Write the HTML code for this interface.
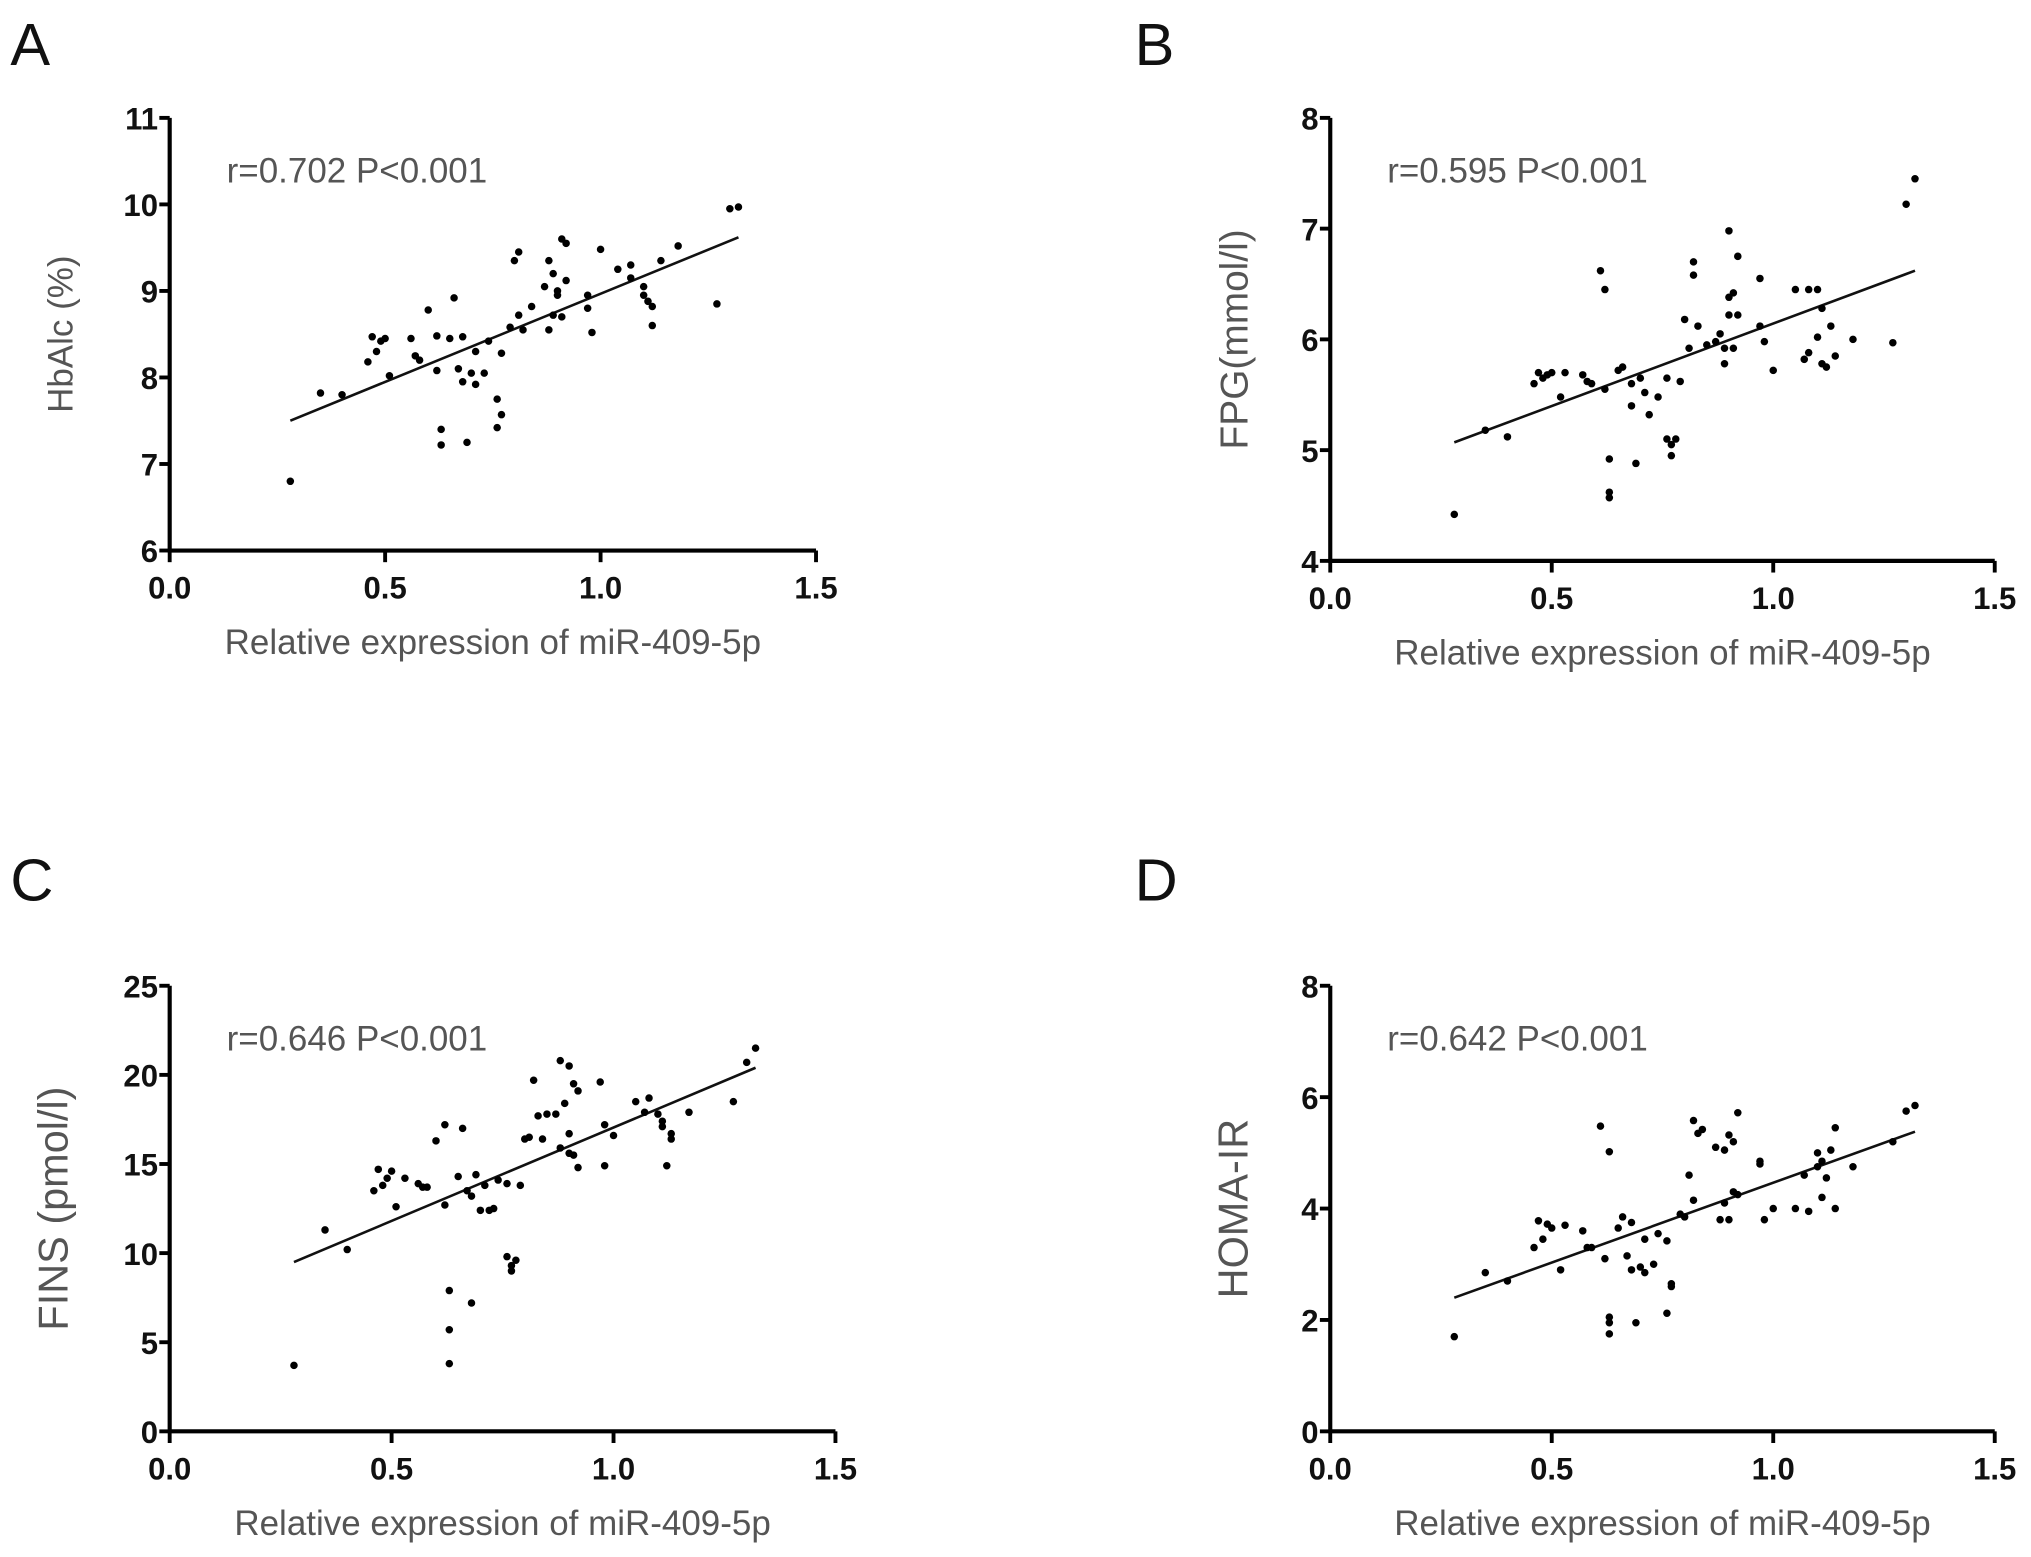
<!DOCTYPE html>
<html><head><meta charset="utf-8"><style>
html,body{margin:0;padding:0;background:#fff;}
svg{display:block;}
.tick{font-family:"Liberation Sans Narrow","Liberation Sans",sans-serif;font-size:24px;fill:#111;font-weight:bold;}
.ttl{font-family:"Liberation Sans Narrow","Liberation Sans",sans-serif;fill:#555;}
.lbl{font-family:"Liberation Sans",sans-serif;font-size:46px;fill:#111;}
</style></head><body>
<svg id="fig" width="2031" height="1557" viewBox="0 0 1568 1202" preserveAspectRatio="none" xmlns="http://www.w3.org/2000/svg"></svg>
<script>
const xTicks = [0.0, 0.5, 1.0, 1.5];
const xTickLabels = ["0.0", "0.5", "1.0", "1.5"];

const aX = [0.28,0.35,0.40,0.46,0.47,0.48,0.49,0.50,0.51,0.56,0.57,0.58,0.60,0.62,0.62,0.63,0.63,0.65,0.66,0.67,0.68,0.68,0.69,0.70,0.71,0.71,0.73,0.74,0.76,0.76,0.77,0.77,0.79,0.80,0.81,0.81,0.82,0.84,0.87,0.88,0.88,0.89,0.89,0.90,0.90,0.91,0.92,0.92,0.91,0.97,0.97,0.98,1.00,1.04,1.07,1.07,1.10,1.10,1.11,1.12,1.12,1.14,1.18,1.27,1.30,1.32];
const aY = [6.8,7.82,7.8,8.18,8.47,8.3,8.42,8.45,8.02,8.45,8.25,8.2,8.78,8.48,8.08,7.4,7.22,8.45,8.92,8.1,8.47,7.95,7.25,8.05,8.3,7.92,8.05,8.42,7.75,7.42,7.57,8.28,8.58,9.35,9.45,8.72,8.55,8.82,9.05,9.35,8.55,8.72,9.2,9.0,8.95,9.6,9.55,9.12,8.7,8.8,8.95,8.52,9.48,9.25,9.15,9.3,9.05,8.95,8.88,8.82,8.6,9.35,9.52,8.85,9.95,9.97];
const aFit = [[0.28,7.5],[1.32,9.62]];
const aYTicks = [6,7,8,9,10,11];

const bX = [0.28,0.35,0.40,0.46,0.47,0.48,0.49,0.50,0.52,0.53,0.57,0.58,0.59,0.61,0.62,0.62,0.63,0.63,0.63,0.65,0.66,0.68,0.68,0.69,0.70,0.71,0.72,0.74,0.76,0.76,0.77,0.77,0.78,0.79,0.80,0.81,0.82,0.82,0.83,0.85,0.87,0.88,0.89,0.89,0.90,0.90,0.90,0.91,0.91,0.92,0.92,0.97,0.97,0.98,1.00,1.05,1.07,1.08,1.08,1.10,1.10,1.11,1.11,1.12,1.13,1.14,1.18,1.27,1.30,1.32];
const bY = [4.42,5.18,5.12,5.6,5.7,5.65,5.68,5.7,5.48,5.7,5.68,5.62,5.6,6.62,5.55,6.45,4.92,4.62,4.57,5.72,5.75,5.6,5.4,4.88,5.65,5.52,5.32,5.48,5.65,5.1,4.95,5.05,5.1,5.62,6.18,5.92,6.7,6.58,6.12,5.95,5.98,6.05,5.92,5.78,6.98,6.38,6.22,6.42,5.92,6.75,6.22,6.55,6.12,5.98,5.72,6.45,5.82,6.45,5.88,6.45,6.02,6.28,5.78,5.75,6.12,5.85,6.0,5.97,7.22,7.45];
const bFit = [[0.28,5.07],[1.32,6.62]];
const bYTicks = [4,5,6,7,8];

const cX = [0.28,0.35,0.40,0.46,0.47,0.48,0.49,0.50,0.51,0.53,0.56,0.57,0.58,0.60,0.62,0.62,0.63,0.63,0.63,0.65,0.66,0.67,0.68,0.68,0.69,0.70,0.71,0.72,0.73,0.74,0.76,0.76,0.77,0.77,0.78,0.79,0.80,0.81,0.82,0.83,0.84,0.85,0.87,0.88,0.88,0.89,0.90,0.90,0.90,0.91,0.91,0.92,0.92,0.97,0.98,0.98,1.00,1.05,1.07,1.08,1.10,1.11,1.11,1.12,1.13,1.13,1.17,1.27,1.30,1.32];
const cY = [3.7,11.3,10.2,13.5,14.7,13.8,14.2,14.6,12.6,14.2,13.9,13.7,13.7,16.3,17.2,12.7,7.9,5.7,3.8,14.3,17.0,13.5,13.2,7.2,14.4,12.4,13.8,12.4,12.5,14.1,13.9,9.8,9.0,9.3,9.6,13.8,16.4,16.5,19.7,17.7,16.4,17.8,17.8,20.8,15.9,18.4,20.5,16.7,15.6,19.5,15.5,19.1,14.8,19.6,17.2,14.9,16.6,18.5,17.9,18.7,17.8,17.4,17.1,14.9,16.7,16.4,17.9,18.5,20.7,21.5];
const cFit = [[0.28,9.5],[1.32,20.4]];
const cYTicks = [0,5,10,15,20,25];

const dX = [0.28,0.35,0.40,0.46,0.47,0.48,0.49,0.50,0.52,0.53,0.57,0.58,0.59,0.61,0.62,0.63,0.63,0.63,0.63,0.65,0.66,0.67,0.68,0.68,0.69,0.70,0.71,0.71,0.73,0.74,0.76,0.76,0.77,0.77,0.79,0.80,0.81,0.82,0.82,0.83,0.84,0.87,0.88,0.89,0.89,0.90,0.90,0.91,0.91,0.92,0.92,0.97,0.97,0.98,1.00,1.05,1.07,1.08,1.10,1.10,1.11,1.11,1.12,1.13,1.14,1.14,1.18,1.27,1.30,1.32];
const dY = [1.7,2.85,2.7,3.3,3.78,3.45,3.72,3.65,2.9,3.7,3.6,3.3,3.3,5.48,3.1,5.02,2.05,1.95,1.75,3.65,3.85,3.15,3.75,2.9,1.95,2.95,3.45,2.85,3.0,3.55,3.42,2.12,2.65,2.6,3.9,3.85,4.6,5.58,4.15,5.35,5.42,5.1,3.8,5.05,4.1,5.32,3.8,5.2,4.3,5.72,4.25,4.85,4.8,3.8,4.0,4.0,4.6,3.95,5.0,4.75,4.85,4.2,4.55,5.05,5.45,4.0,4.75,5.2,5.75,5.85];
const dFit = [[0.28,2.4],[1.32,5.38]];
const dYTicks = [0,2,4,6,8];

const NS = "http://www.w3.org/2000/svg";
const svg = document.getElementById('fig');
function mk(tag, attrs, parent, text){
  const e = document.createElementNS(NS, tag);
  for (const k in attrs) e.setAttribute(k, attrs[k]);
  if (text !== undefined) e.textContent = text;
  (parent || svg).appendChild(e);
  return e;
}

function panel(id, cfg, xs, ys, fit, yTicks){
  const g = mk('g', {});
  
  
  const yMin = yTicks[0], yMax = yTicks[yTicks.length-1];
  const sx = v => cfg.x0 + (v - 0) / 1.5 * (cfg.x1 - cfg.x0);
  const sy = v => cfg.yb - (v - yMin) / (yMax - yMin) * (cfg.yb - cfg.yt);

  const lab = mk('text', {x: cfg.lx, y: cfg.ly, class: 'lbl'}, g, id.toUpperCase());
  
  

  const ax = mk('path', {d: `M${cfg.x0},${cfg.yt} L${cfg.x0},${cfg.yb} L${cfg.x1},${cfg.yb}`, fill: 'none', stroke: '#000', 'stroke-width': 3.2}, g);
  
  

  yTicks.forEach(t => {
    const y = sy(t);
    const tk = mk('line', {x1: cfg.x0 - 8, x2: cfg.x0, y1: y, y2: y, stroke: '#000', 'stroke-width': 3}, g);
    
    
    const tl = mk('text', {x: cfg.x0 - 9, y: y + 9, 'text-anchor': 'end', class: 'tick'}, g, String(t));
    
    
  });
  xTicks.forEach((t, i) => {
    const x = sx(t);
    const tk = mk('line', {x1: x, x2: x, y1: cfg.yb, y2: cfg.yb + 9, stroke: '#000', 'stroke-width': 3}, g);
    
    
    const tl = mk('text', {x: x, y: cfg.yb + 37, 'text-anchor': 'middle', class: 'tick'}, g, xTickLabels[i]);
    
    
  });

  const xt = mk('text', {x: (cfg.x0 + cfg.x1) / 2, y: cfg.yb + 80, 'text-anchor': 'middle', class: 'ttl', 'font-size': 27}, g, 'Relative expression of miR-409-5p');
  
  

  const cyc = (cfg.yt + cfg.yb) / 2;
  const yt = mk('text', {x: cfg.ytx, y: cyc, 'text-anchor': 'middle', class: 'ttl', 'font-size': cfg.yfs, transform: `rotate(-90 ${cfg.ytx} ${cyc})`}, g, cfg.ytitle);
  
  

  const rt = mk('text', {x: cfg.x0 + 44, y: cfg.yt + 50, class: 'ttl', 'font-size': 27, fill: '#444'}, g, cfg.rtext);
  
  

  const fl = mk('line', {x1: sx(fit[0][0]), y1: sy(fit[0][1]), x2: sx(fit[1][0]), y2: sy(fit[1][1]), stroke: '#111', 'stroke-width': 2}, g);
  
  

  xs.forEach((v, i) => {
    const c = mk('circle', {cx: sx(v), cy: sy(ys[i]), r: 2.9, fill: '#000'}, g);
    
    
  });
}

panel('a', {x0:131, x1:630, yt:91, yb:425, lx:8, ly:50, ytx:56, yfs:27, ytitle:'HbAlc (%)', rtext:'r=0.702 P<0.001'}, aX, aY, aFit, aYTicks);
panel('b', {x0:1027, x1:1540, yt:91, yb:433, lx:876, ly:50, ytx:963, yfs:30, ytitle:'FPG(mmol/l)', rtext:'r=0.595 P<0.001'}, bX, bY, bFit, bYTicks);
panel('c', {x0:131, x1:645, yt:761, yb:1105, lx:8, ly:695, ytx:52, yfs:32, ytitle:'FINS (pmol/l)', rtext:'r=0.646 P<0.001'}, cX, cY, cFit, cYTicks);
panel('d', {x0:1027, x1:1540, yt:761, yb:1105, lx:876, ly:695, ytx:963, yfs:32, ytitle:'HOMA-IR', rtext:'r=0.642 P<0.001'}, dX, dY, dFit, dYTicks);
</script>
</body></html>
